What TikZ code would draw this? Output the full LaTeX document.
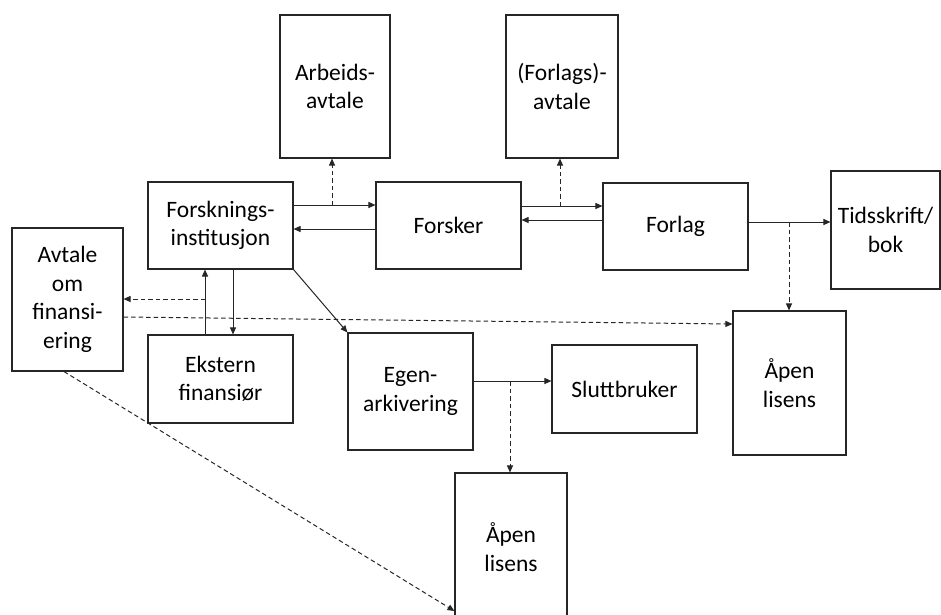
\documentclass[tikz,border=0pt]{standalone}
\usepackage{fontspec}
\setmainfont{Carlito}
\usetikzlibrary{arrows.meta,calc}
\begin{document}
\begin{tikzpicture}[x=1pt,y=-1pt,
  box/.style={draw=black!85,line width=1.1pt,fill=white,align=center,inner sep=0pt,
    font=\fontsize{23.5}{28.5}\selectfont},
  conn/.style={line width=1pt,draw=black!85,-{Triangle[length=7pt,width=6pt]}},
  dconn/.style={conn,dash pattern=on 4.5pt off 3pt}]
\useasboundingbox (0,0) rectangle (941,614);
\node[box,minimum width=110pt,minimum height=143pt] (arb) at (335,86.5) {Arbeids-\\avtale};
\node[box,minimum width=112pt,minimum height=143pt] (favt) at (562,86.5) {(Forlags)-\\avtale};
\node[box,minimum width=145pt,minimum height=87pt] (inst) at (220.5,225.5) {Forsknings-\\institusjon};
\node[box,minimum width=145pt,minimum height=87pt] (forsker) at (448.5,225.5) {Forsker};
\node[box,minimum width=145pt,minimum height=87pt] (forlag) at (675.5,226.5) {Forlag};
\node[box,minimum width=109pt,minimum height=118pt] (tids) at (885.5,230) {Tidsskrift/\\bok};
\node[box,minimum width=111pt,minimum height=143pt] (avt) at (67.5,299.5) {Avtale\\om\\finansi-\\ering};
\node[box,minimum width=145pt,minimum height=88pt] (ekst) at (220.5,379) {Ekstern\\finansiør};
\node[box,minimum width=125pt,minimum height=117pt] (egen) at (410.5,391.5) {Egen-\\arkivering};
\node[box,minimum width=145pt,minimum height=88pt] (slutt) at (624.5,389) {Sluttbruker};
\node[box,minimum width=113pt,minimum height=144pt] (apen1) at (789.5,383) {Åpen\\lisens};
\node[box,minimum width=112pt,minimum height=148pt] (apen2) at (511,547) {Åpen\\lisens};
% institution <-> researcher
\draw[conn] ([yshift=20.5pt]inst.east) -- ([yshift=20.5pt]forsker.west);
\draw[conn] ([yshift=-3.5pt]forsker.west) -- ([yshift=-3.5pt]inst.east);
\coordinate (j1) at (332,205);
\draw[dconn] (j1) -- (j1 |- arb.south);
% researcher <-> publisher
\draw[conn] ([yshift=19.5pt]forsker.east) -- ([yshift=20.5pt]forlag.west);
\draw[conn] ([yshift=6.5pt]forlag.west) -- ([yshift=5.5pt]forsker.east);
\coordinate (j2) at (560,206);
\draw[dconn] (j2) -- (j2 |- favt.south);
% publisher -> journal
\draw[conn] ([yshift=4.5pt]forlag.east) -- ([yshift=8pt]tids.west);
\coordinate (j3) at (789,222);
\draw[dconn] (j3) -- (j3 |- apen1.north);
% institution <-> funder
\draw[conn] ([xshift=12.5pt]inst.south) -- ([xshift=12.5pt]ekst.north);
\draw[conn] ([xshift=-15.5pt]ekst.north) -- ([xshift=-15.5pt]inst.south);
\coordinate (j4) at (205,299);
\draw[dconn] (j4) -- (j4 -| avt.east);
% agreement -> open licence
\draw[dconn] ([yshift=-17.5pt]avt.east) -- ([yshift=59pt]apen1.west);
% institution -> self archiving
\draw[conn] (inst.south east) -- (egen.north west);
\draw[conn] ([yshift=10.5pt]egen.east) -- ([yshift=8pt]slutt.west);
\coordinate (j5) at (510,381);
\draw[dconn] (j5) -- (j5 |- apen2.north);
% agreement -> lower open licence
\draw[dconn] ([xshift=-3.5pt]avt.south) -- ([yshift=-64pt]apen2.west);
\end{tikzpicture}
\end{document}
